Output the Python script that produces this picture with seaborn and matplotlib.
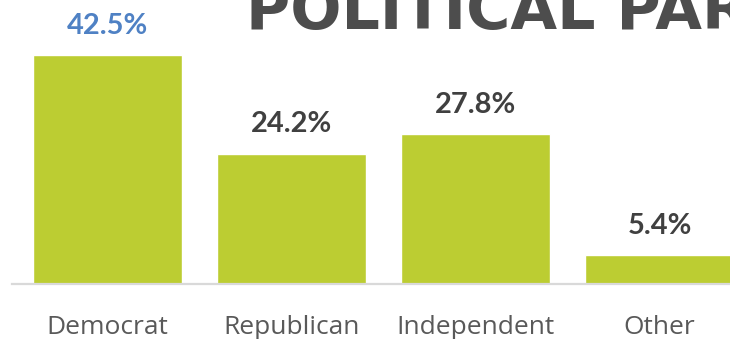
import matplotlib
matplotlib.use("Agg")
import matplotlib.pyplot as plt
import seaborn as sns
import pandas as pd

categories = ["Democrat", "Republican", "Independent", "Other"]
values = [42.5, 24.2, 27.8, 5.4]
value_labels = ["42.5%", "24.2%", "27.8%", "5.4%"]
label_colors = ["#4F81C4", "#404040", "#404040", "#404040"]
title = "POLITICAL PARTY AFFILIATION"

sns.set_theme(style="white")
plt.rcParams["font.family"] = ["Open Sans", "DejaVu Sans"]

df = pd.DataFrame({"party": categories, "pct": values})

W, H = 730, 339
fig = plt.figure(figsize=(W / 100, H / 100), dpi=100)
px_per_unit = 184.0
xl = (-0.52, 3.52)
ax_w = (xl[1] - xl[0]) * px_per_unit
ax_bottom = (H - 284) / H
ax = fig.add_axes([12 / W, ax_bottom, ax_w / W, 284 / H])

sns.barplot(data=df, x="party", y="pct", color="#BCCD32", saturation=1,
            width=0.81, ax=ax)
ax.set_xlim(*xl)
ax.set_ylim(0, 284 / 5.39)

containers = ax.containers[0]
texts = ax.bar_label(containers, labels=value_labels, padding=11.8,
                     fontsize=20.9, fontweight="bold", family="Lato")
for t, c in zip(texts, label_colors):
    t.set_color(c)

ax.set_xlabel("")
ax.set_ylabel("")
ax.set_yticks([])
for s in ["top", "right", "left"]:
    ax.spines[s].set_visible(False)
ax.spines["bottom"].set_color("#D9D9D9")
ax.spines["bottom"].set_linewidth(1.6)
ax.tick_params(axis="x", length=0, pad=22.5, labelsize=19, labelcolor="#595959")

fig.text(246 / W, (H - 29) / H, title, ha="left", va="baseline",
         fontsize=43.5, fontweight="bold", color="#4D4D4D",
         family="DejaVu Sans")

fig.savefig("out.png", dpi=100)
